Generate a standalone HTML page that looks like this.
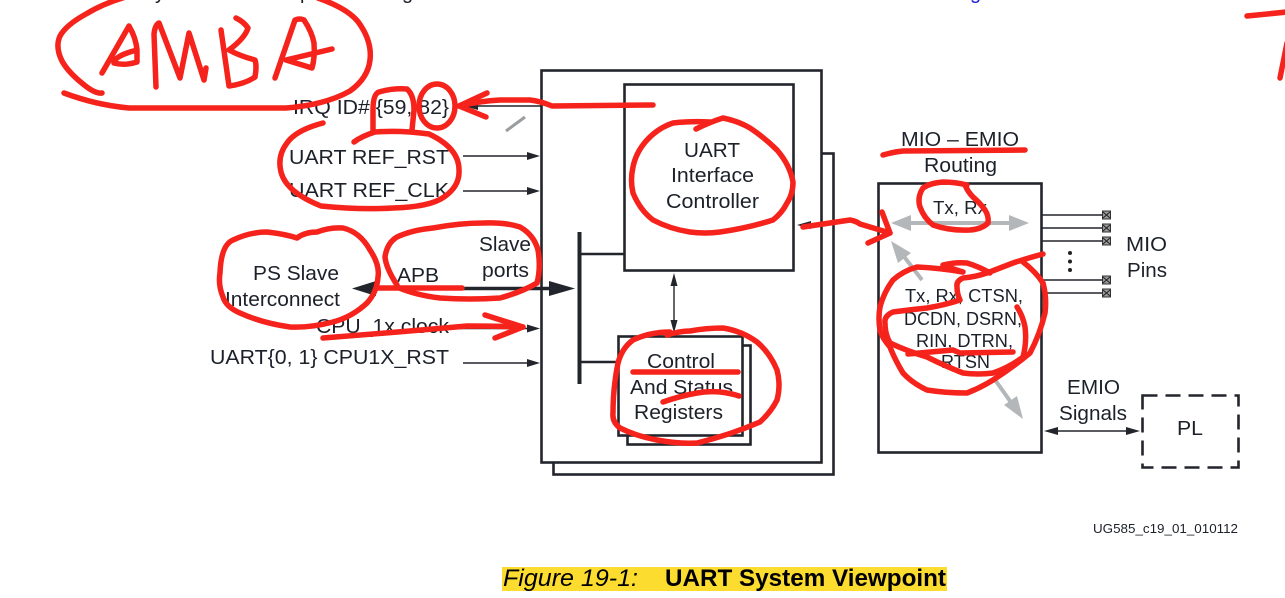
<!DOCTYPE html>
<html lang="en">
<head>
<meta charset="utf-8">
<title>UART System Viewpoint</title>
<style>
html,body{margin:0;padding:0;background:#fff;width:1285px;height:598px;overflow:hidden}
svg{display:block}
text{font-family:"Liberation Sans",sans-serif;fill:#1c2029;font-size:20px}
.box{fill:#fff;stroke:#22252b;stroke-width:2.6}
.thin{stroke:#22252b;stroke-width:1.4;fill:none}
.head{fill:#22252b;stroke:none}
.gray{stroke:#b4b7ba;stroke-width:4;fill:none}
.grayhead{fill:#b4b7ba;stroke:none}
.pin{fill:#9a9a9a;stroke:#333;stroke-width:1}
.red path,.red ellipse{fill:none;stroke:#f5231b;stroke-width:5.5;stroke-linecap:round;stroke-linejoin:round}
</style>
</head>
<body>
<svg width="1285" height="598" viewBox="0 0 1285 598" xmlns="http://www.w3.org/2000/svg">
<rect width="1285" height="598" fill="#fff"/>

<text x="155" y="-1">y</text>
<text x="300" y="-1">p</text>
<text x="402" y="-1">g</text>
<text x="970" y="-1" style="fill:#2222dd">g</text>

<rect class="box" x="553.5" y="153.5" width="280" height="321"/>
<rect class="box" x="541.5" y="70.5" width="280" height="392"/>
<rect class="box" x="624.5" y="84.5" width="169" height="186"/>
<rect class="box" x="627.5" y="345.5" width="123" height="99"/>
<rect class="box" x="618.5" y="336.5" width="124" height="99"/>

<line x1="579.5" y1="232" x2="579.5" y2="384" stroke="#22252b" stroke-width="4"/>
<line x1="579" y1="254" x2="624" y2="254" stroke="#22252b" stroke-width="2.5"/>
<line x1="579" y1="362" x2="618" y2="362" stroke="#22252b" stroke-width="2.5"/>

<line class="thin" x1="674" y1="280" x2="674" y2="326"/>
<polygon class="head" points="674,273 670.5,286 677.5,286"/>
<polygon class="head" points="674,333 670.5,320 677.5,320"/>

<line class="thin" x1="468" y1="106" x2="541" y2="106"/>
<polygon class="head" points="464,106 478,102 478,110"/>
<line x1="506" y1="131" x2="525" y2="117" stroke="#9a9da0" stroke-width="3"/>
<line class="thin" x1="463" y1="156" x2="530" y2="156"/>
<polygon class="head" points="540,156 527,152 527,160"/>
<line class="thin" x1="463" y1="191" x2="530" y2="191"/>
<polygon class="head" points="540,191 527,187 527,195"/>
<line class="thin" x1="450" y1="328.5" x2="530" y2="328.5"/>
<polygon class="head" points="540,328.5 527,324.5 527,332.5"/>
<line class="thin" x1="463" y1="363" x2="530" y2="363"/>
<polygon class="head" points="540,363 527,359 527,367"/>

<line x1="370" y1="288.5" x2="555" y2="288.5" stroke="#22252b" stroke-width="3.5"/>
<polygon class="head" points="352,288.5 376,281 376,296"/>
<polygon class="head" points="575,288.5 549,281 549,296"/>

<polygon class="head" points="797,225 811,221 811,229"/>

<rect class="box" x="878.5" y="183.5" width="163" height="269"/>
<line class="gray" x1="905" y1="223" x2="1015" y2="223"/>
<polygon class="grayhead" points="891,223 911,215 911,231"/>
<polygon class="grayhead" points="1029,223 1009,215 1009,231"/>
<line class="gray" x1="922" y1="280" x2="899" y2="250"/>
<polygon class="grayhead" points="891,241 911,253 898,263"/>
<line class="gray" x1="993" y1="377" x2="1015" y2="408"/>
<polygon class="grayhead" points="1023,419 1004,405 1017,396"/>

<g class="thin">
<line x1="1042" y1="215" x2="1102" y2="215"/>
<line x1="1042" y1="228" x2="1102" y2="228"/>
<line x1="1042" y1="241" x2="1102" y2="241"/>
<line x1="1042" y1="280" x2="1102" y2="280"/>
<line x1="1042" y1="293" x2="1102" y2="293"/>
</g>
<rect class="pin" x="1102.5" y="211" width="8" height="8"/>
<rect class="pin" x="1102.5" y="224" width="8" height="8"/>
<rect class="pin" x="1102.5" y="237" width="8" height="8"/>
<rect class="pin" x="1102.5" y="276" width="8" height="8"/>
<rect class="pin" x="1102.5" y="289" width="8" height="8"/>
<path stroke="#222" stroke-width="1" fill="none" d="M1103 212l7 6M1110 212l-7 6M1103 225l7 6M1110 225l-7 6M1103 238l7 6M1110 238l-7 6M1103 277l7 6M1110 277l-7 6M1103 290l7 6M1110 290l-7 6"/>
<circle cx="1070" cy="253" r="2" fill="#222"/>
<circle cx="1070" cy="261.5" r="2" fill="#222"/>
<circle cx="1070" cy="270" r="2" fill="#222"/>

<line class="thin" x1="1050" y1="431" x2="1134" y2="431"/>
<polygon class="head" points="1044,431 1058,427 1058,435"/>
<polygon class="head" points="1140,431 1126,427 1126,435"/>
<rect x="1142.5" y="395.5" width="96" height="72" fill="none" stroke="#22252b" stroke-width="2.6" stroke-dasharray="15 8"/>

<text x="293" y="114" textLength="156" lengthAdjust="spacingAndGlyphs">IRQ ID# {59, 82}</text>
<text x="289" y="164" textLength="160" lengthAdjust="spacingAndGlyphs">UART REF_RST</text>
<text x="289" y="197" textLength="160" lengthAdjust="spacingAndGlyphs">UART REF_CLK</text>
<text x="253" y="280" textLength="86" lengthAdjust="spacingAndGlyphs">PS Slave</text>
<text x="225" y="306" textLength="115" lengthAdjust="spacingAndGlyphs">Interconnect</text>
<text x="397" y="282" textLength="42" lengthAdjust="spacingAndGlyphs">APB</text>
<text x="479" y="251" textLength="52" lengthAdjust="spacingAndGlyphs">Slave</text>
<text x="482" y="277" textLength="47" lengthAdjust="spacingAndGlyphs">ports</text>
<text x="316" y="333" textLength="133" lengthAdjust="spacingAndGlyphs">CPU_1x clock</text>
<text x="210" y="364" textLength="239" lengthAdjust="spacingAndGlyphs">UART{0, 1} CPU1X_RST</text>
<text x="684" y="157" textLength="56" lengthAdjust="spacingAndGlyphs">UART</text>
<text x="671" y="182" textLength="83" lengthAdjust="spacingAndGlyphs">Interface</text>
<text x="666" y="208" textLength="93" lengthAdjust="spacingAndGlyphs">Controller</text>
<text x="647" y="368" textLength="68" lengthAdjust="spacingAndGlyphs">Control</text>
<text x="630" y="394" textLength="103" lengthAdjust="spacingAndGlyphs">And Status</text>
<text x="634" y="419" textLength="89" lengthAdjust="spacingAndGlyphs">Registers</text>
<text x="901" y="146" textLength="118" lengthAdjust="spacingAndGlyphs">MIO – EMIO</text>
<text x="924" y="172" textLength="73" lengthAdjust="spacingAndGlyphs">Routing</text>
<text x="933" y="214" style="font-size:18px" textLength="54" lengthAdjust="spacingAndGlyphs">Tx, Rx</text>
<text x="905" y="302" style="font-size:18px" textLength="118" lengthAdjust="spacingAndGlyphs">Tx, Rx, CTSN,</text>
<text x="904" y="325" style="font-size:18px" textLength="118" lengthAdjust="spacingAndGlyphs">DCDN, DSRN,</text>
<text x="916" y="347" style="font-size:18px" textLength="97" lengthAdjust="spacingAndGlyphs">RIN, DTRN,</text>
<text x="941" y="368" style="font-size:18px" textLength="49" lengthAdjust="spacingAndGlyphs">RTSN</text>
<text x="1126" y="251" textLength="41" lengthAdjust="spacingAndGlyphs">MIO</text>
<text x="1127" y="277" textLength="40" lengthAdjust="spacingAndGlyphs">Pins</text>
<text x="1067" y="394" textLength="53" lengthAdjust="spacingAndGlyphs">EMIO</text>
<text x="1059" y="420" textLength="68" lengthAdjust="spacingAndGlyphs">Signals</text>
<text x="1177" y="435" textLength="26" lengthAdjust="spacingAndGlyphs">PL</text>
<text x="1093" y="533" style="font-size:13px" textLength="145" lengthAdjust="spacingAndGlyphs">UG585_c19_01_010112</text>

<rect x="502" y="567" width="445" height="24" fill="#fcdc2e"/>
<text x="503" y="586" style="font-size:24px;font-style:italic;fill:#000" textLength="135" lengthAdjust="spacingAndGlyphs">Figure 19-1:</text>
<text x="665" y="586" style="font-size:24px;font-weight:bold;fill:#000" textLength="281" lengthAdjust="spacingAndGlyphs">UART System Viewpoint</text>

<g class="red">
<path d="M102 93 Q95 94 83 84 Q68 72 62 61 Q55 47 60 36 Q66 25 86 14 Q104 3 129 -4"/>
<path d="M318 -2 Q352 10 361 26 Q372 43 370 60 Q368 78 350 91 Q325 105 286 108 L129 108 Q96 105 64 93"/>
<path d="M102 73 L129 26 Q136 38 137 50 L137 62 Q125 66 114 63 Q114 56 137 50"/>
<path d="M156 87 L154 34 Q155 25 159 23 L180 78 L189 33 L204 80 L206 68"/>
<path d="M221 30 L229 86 Q245 84 255 77 Q257 66 255 60 Q240 56 229 50 Q245 38 248 28 Q244 22 236 18"/>
<path d="M275 78 L295 20 Q300 18 304 20 Q312 32 314 43 Q315 58 312 68 L286 60 L332 49"/>
<path d="M373 132 L373 110 Q373 94 379 92 Q393 88 407 89 Q414 95 414 110 L412 130"/>
<ellipse cx="437" cy="106" rx="18" ry="22"/>
<path d="M487 93 L459 106 L486 117"/>
<path d="M459 106 Q480 101 500 100 L530 100 Q540 101 552 106 L653 105"/>
<path d="M323 123 Q296 130 287 143 Q277 156 281 172 Q286 192 321 206 Q360 210 393 208 Q430 207 444 197 Q460 186 459 170 Q459 148 429 134 Q400 130 375 132 Q362 136 354 142"/>
<path d="M220 273 Q221 245 233 240 Q250 232 267 232 Q285 234 297 238 Q305 232 317 232 Q330 227 343 228 Q360 232 370 250 Q380 265 378 277 Q377 292 367 303 Q352 317 333 322 Q310 328 290 327 Q262 323 240 313 Q226 307 223 297 Q218 285 220 273"/>
<path d="M397 285 Q386 268 385 257 Q387 243 397 237 Q412 230 433 228 Q460 223 483 223 Q505 222 520 227 Q534 235 538 250 Q541 268 537 283 Q522 292 500 298 Q470 300 440 298 Q415 295 397 287"/>
<path d="M377 288 L462 288"/>
<path d="M323 338 Q400 332 467 326 Q495 326 523 327"/>
<path d="M485 315 L523 327 L495 338"/>
<path d="M696 129 Q710 122 723 118 Q738 121 750 128 Q765 138 777 150 Q790 165 793 182 Q793 194 787 203 Q782 213 773 220 Q748 228 720 232 Q705 234 690 232 Q670 229 653 220 Q640 210 633 193 Q630 180 633 167 Q636 152 647 140 Q658 128 673 123 Q690 121 710 122"/>
<path d="M667 335 Q680 331 690 331 Q706 328 723 328 Q742 331 757 342 Q770 353 777 370 Q781 385 777 400 Q771 412 760 422 Q730 435 697 443 Q678 444 657 440 Q636 436 620 428 Q612 422 613 413 Q613 388 618 363 Q622 348 633 340 Q650 332 670 332"/>
<path d="M633 372 L738 372"/>
<path d="M663 402 Q680 396 697 393 Q708 391 720 392 Q730 393 739 396"/>
<path d="M803 227 Q830 223 850 220 Q856 221 860 224 L890 233"/>
<path d="M882 212 L890 233 L868 243"/>
<path d="M883 155 Q893 152 903 151 L1025 150"/>
<path d="M967 185 Q955 182 943 182 Q930 183 923 188 Q917 197 920 207 Q924 218 933 225 Q950 231 970 230 Q982 229 988 223 Q989 216 985 210 Q980 203 973 197 Q968 192 965 185"/>
<path d="M1043 254 Q1028 258 1013 263 Q1000 268 987 273 Q975 277 963 278 Q956 281 957 287 Q957 294 960 300 Q945 305 927 308 Q908 310 893 312 Q884 316 885 323 Q885 334 890 343 Q907 351 927 357 Q945 366 963 373 Q978 375 993 373 Q1010 367 1023 357 Q1027 342 1025 327 Q1023 316 1017 307"/>
<path d="M1023 262 Q1036 272 1043 283 Q1047 298 1045 313 Q1040 334 1030 353 Q1012 368 993 380 Q980 388 967 393 Q945 393 927 390 Q912 383 903 373 Q895 360 890 347 Q882 338 880 330 Q878 318 880 307 Q884 292 893 280 Q903 271 917 267 Q940 268 963 272 Q950 268 943 265 Q955 262 967 263 Q980 267 990 273"/>
<path d="M908 354 L953 350 L960 353 L1013 352"/>
<path d="M1247 16 L1287 12"/>
<path d="M1287 43 L1280 78"/>
</g>
</svg>
</body>
</html>
